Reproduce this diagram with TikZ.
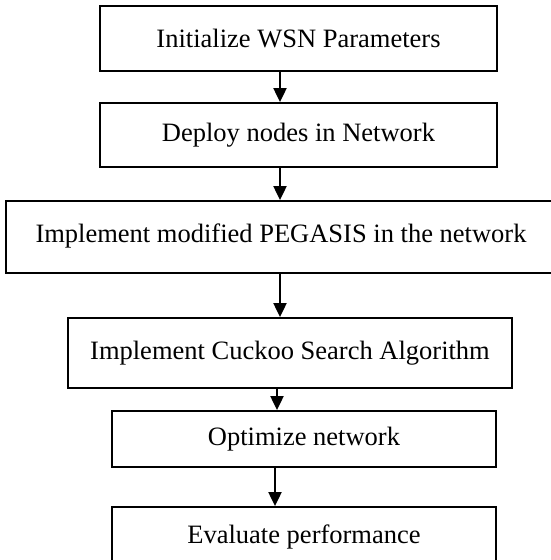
\documentclass[tikz,border=0pt]{standalone}
\usepackage{fontspec}
\setmainfont{Liberation Serif}
\usetikzlibrary{arrows.meta}

\begin{document}
\begin{tikzpicture}[x=1pt, y=-1pt,
  box/.style={draw, line width=1.8pt, rectangle, inner sep=0pt, font=\fontsize{26.5}{32}\selectfont},
  flow/.style={-{Triangle[length=14pt,width=13pt]}, line width=2pt}]
\useasboundingbox (0,0) rectangle (551,560);
\node[box, minimum width=397pt, minimum height=65pt] (init) at (298.5,38.5) {Initialize WSN Parameters};
\node[box, minimum width=397pt, minimum height=64pt] (deploy) at (298.5,135) {Deploy nodes in Network};
\node[box, minimum width=550pt, minimum height=72pt] (pegasis) at (281,237) {\raisebox{7pt}{Implement modified PEGASIS in the network}};
\node[box, minimum width=444pt, minimum height=70pt] (cuckoo) at (290,353) {Implement Cuckoo Search Algorithm};
\node[box, minimum width=384pt, minimum height=56pt] (optim) at (304,439) {Optimize network};
\node[box, minimum width=384pt, minimum height=59pt] (eval) at (304,536.5) {Evaluate performance};
% Arrows:
\coordinate (ax) at (280,0);
\coordinate (bx) at (277,0);
\coordinate (cx) at (275,0);
\draw[flow] (init.south -| ax) -- (deploy.north -| ax);
\draw[flow] (deploy.south -| ax) -- (pegasis.north -| ax);
\draw[flow] (pegasis.south -| ax) -- (cuckoo.north -| ax);
\draw[flow] (cuckoo.south -| bx) -- (optim.north -| bx);
\draw[flow] (optim.south -| cx) -- (eval.north -| cx);
\end{tikzpicture}
\end{document}
